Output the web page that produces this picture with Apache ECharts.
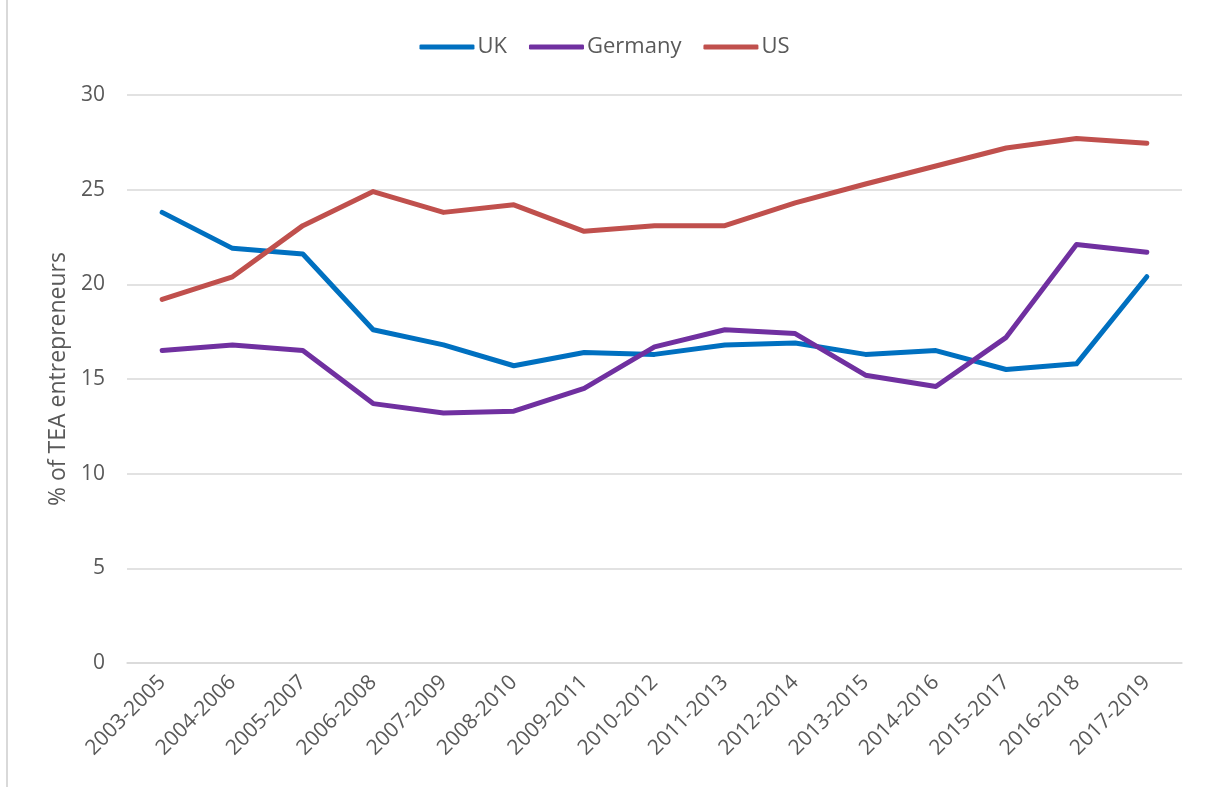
<!DOCTYPE html>
<html>
<head>
<meta charset="utf-8">
<script src="https://cdn.jsdelivr.net/npm/echarts@6/dist/echarts.min.js"></script>
<style>
    html, body { margin: 0; padding: 0; background: #fff; }
    #chart { width: 1209px; height: 787px; }
</style>
</head>
<body>
<div id="chart"></div>
<script>
// periods on the x axis
var periods = ['2003-2005', '2004-2006', '2005-2007', '2006-2008', '2007-2009',
    '2008-2010', '2009-2011', '2010-2012', '2011-2013', '2012-2014',
    '2013-2015', '2014-2016', '2015-2017', '2016-2018', '2017-2019'];

// % of TEA entrepreneurs
var ukValues      = [23.8, 21.9, 21.6, 17.6, 16.8, 15.7, 16.4, 16.3, 16.8, 16.9, 16.3, 16.5, 15.5, 15.8, 20.4];
var germanyValues = [16.5, 16.8, 16.5, 13.7, 13.2, 13.3, 14.5, 16.7, 17.6, 17.4, 15.2, 14.6, 17.2, 22.1, 21.7];
var usValues      = [19.2, 20.4, 23.1, 24.9, 23.8, 24.2, 22.8, 23.1, 23.1, 24.3, 25.3, 26.25, 27.2, 27.7, 27.45];

var textColor = '#595959';
var font = '"Open Sans", sans-serif';

function makeLine(name, data, color) {
    return {
        name: name,
        type: 'line',
        data: data,
        symbol: 'none',
        lineStyle: { width: 5, color: color, cap: 'round', join: 'round' },
        itemStyle: { color: color }
    };
}

var myChart = echarts.init(document.getElementById('chart'));

var option = {
    animation: false,
    textStyle: { fontFamily: font, color: textColor },
    legend: {
        top: 31,
        left: 'center',
        icon: 'roundRect',
        itemWidth: 55,
        itemHeight: 5,
        itemGap: 22,
        textStyle: { fontSize: 22, color: textColor, fontFamily: font, padding: [0, 0, 0, -2] },
        data: ['UK', 'Germany', 'US']
    },
    grid: {
        left: 127,
        right: 27,
        top: 95,
        bottom: 124
    },
    xAxis: {
        type: 'category',
        data: periods,
        boundaryGap: true,
        axisLine: { lineStyle: { color: '#d9d9d9', width: 1.5 } },
        axisTick: { show: false },
        axisLabel: {
            rotate: 45,
            fontSize: 21,
            color: textColor,
            fontFamily: font,
            margin: 16,
            interval: 0
        }
    },
    yAxis: {
        type: 'value',
        min: 0,
        max: 30,
        interval: 5,
        name: '% of TEA entrepreneurs',
        nameLocation: 'middle',
        nameGap: 52,
        nameTextStyle: { fontSize: 23, color: textColor, fontFamily: font },
        axisLine: { show: false },
        axisTick: { show: false },
        axisLabel: { fontSize: 21, color: textColor, fontFamily: font, margin: 22 },
        splitLine: { lineStyle: { color: '#d9d9d9', width: 1.5 } }
    },
    graphic: [{
        type: 'line',
        shape: { x1: 7, y1: 0, x2: 7, y2: 787 },
        style: { stroke: '#d9d9d9', lineWidth: 2 }
    }],
    series: [
        makeLine('UK', ukValues, '#0070C0'),
        makeLine('Germany', germanyValues, '#7030A0'),
        makeLine('US', usValues, '#C0504D')
    ]
};

myChart.setOption(option);
</script>
</body>
</html>
